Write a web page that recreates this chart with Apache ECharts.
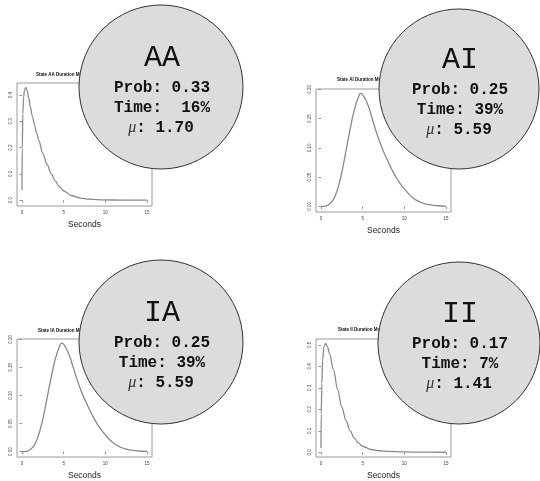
<!DOCTYPE html>
<html>
<head>
<meta charset="utf-8">
<script src="https://cdn.jsdelivr.net/npm/echarts@6/dist/echarts.min.js"></script>
<style>
html, body { margin: 0; padding: 0; background: #fff; }
#chart { width: 540px; height: 481px; }
</style>
</head>
<body>
<div id="chart"></div>
<script>
// states and summary numbers shown in the bubbles
var states = ['AA', 'AI', 'IA', 'II'];
var probs = ['0.33', '0.25', '0.25', '0.17'];
var timeLabels = ['16%', '39%', '39%', '7%'];
var means = ['1.70', '5.59', '5.59', '1.41'];

// duration densities
var aaSeconds = [0, 0.03, 0.1, 0.2, 0.3, 0.45, 0.6, 0.8, 1.0, 1.25, 1.5, 1.75, 2, 2.5, 3, 3.5, 4, 4.5, 5, 6, 7, 8, 10, 12, 15];
var aaDensity = [0.04, 0.2, 0.33, 0.395, 0.418, 0.428, 0.42, 0.39, 0.355, 0.318, 0.287, 0.256, 0.229, 0.178, 0.137, 0.101, 0.073, 0.051, 0.035, 0.017, 0.008, 0.004, 0.0012, 0.0004, 0.0001];

var aiSeconds = [0, 0.5, 1, 1.5, 2, 2.5, 3, 3.5, 4, 4.5, 4.75, 5, 5.5, 6, 6.5, 7, 7.5, 8, 8.5, 9, 9.5, 10, 11, 12, 13, 14, 15];
var aiDensity = [0, 0.0005, 0.004, 0.012, 0.03, 0.058, 0.095, 0.132, 0.165, 0.187, 0.193, 0.191, 0.178, 0.157, 0.133, 0.112, 0.094, 0.078, 0.063, 0.05, 0.039, 0.03, 0.015, 0.007, 0.003, 0.0012, 0.0005];

var iaSeconds = [0, 0.5, 1, 1.5, 2, 2.5, 3, 3.5, 4, 4.5, 4.75, 5, 5.5, 6, 6.5, 7, 7.5, 8, 8.5, 9, 9.5, 10, 11, 12, 13, 14, 15];
var iaDensity = [0, 0.0005, 0.004, 0.012, 0.03, 0.058, 0.095, 0.132, 0.165, 0.187, 0.193, 0.191, 0.178, 0.157, 0.133, 0.112, 0.094, 0.078, 0.063, 0.05, 0.039, 0.03, 0.015, 0.007, 0.003, 0.0012, 0.0005];

var iiSeconds = [0, 0.03, 0.1, 0.2, 0.35, 0.55, 0.8, 1, 1.5, 2, 2.5, 3, 3.5, 4, 4.5, 5, 6, 7, 8, 10, 12, 15];
var iiDensity = [0.02, 0.18, 0.32, 0.43, 0.49, 0.507, 0.49, 0.46, 0.385, 0.29, 0.21, 0.148, 0.1, 0.066, 0.043, 0.028, 0.013, 0.007, 0.004, 0.0015, 0.0005, 0.0001];

// tick labels
var xTicks = [0, 5, 10, 15];
var yTicksAA = [0, 0.1, 0.2, 0.3, 0.4];
var yTicksAI = [0, 0.05, 0.1, 0.15, 0.2];
var yTicksII = [0, 0.1, 0.2, 0.3, 0.4, 0.5];

var seconds = [aaSeconds, aiSeconds, iaSeconds, iiSeconds];
var density = [aaDensity, aiDensity, iaDensity, iiDensity];
var yTicks = [yTicksAA, yTicksAI, yTicksAI, yTicksII];
var yDigits = [1, 2, 2, 1];

// layout
var grids = [
  { left: 17, top: 83, width: 135, height: 123 },
  { left: 316, top: 89, width: 135, height: 123 },
  { left: 17, top: 339, width: 135, height: 123 },
  { left: 316, top: 339, width: 135, height: 123 }
];
var yRanges = [[-0.022, 0.446], [-0.0095, 0.2005], [-0.0095, 0.2005], [-0.022, 0.527]];
var titlePos = [[36, 75], [337, 80], [38, 331], [338, 330]];
var bubbles = [[161, 87, 82], [459, 89, 80], [161, 342, 82], [459, 343, 81]];

var chart = echarts.init(document.getElementById('chart'));

var gridOpts = [], xAxes = [], yAxes = [], series = [], graphics = [];

for (var i = 0; i < 4; i++) {
  gridOpts.push(Object.assign({
    show: true, borderColor: '#9a9a9a', borderWidth: 1, backgroundColor: 'transparent'
  }, grids[i]));

  xAxes.push({
    type: 'value', gridIndex: i, min: -0.6, max: 15.6,
    name: 'Seconds', nameLocation: 'middle', nameGap: 14,
    nameTextStyle: { fontFamily: 'Liberation Sans', fontSize: 8.5, color: '#222' },
    axisLine: { show: false },
    axisTick: { show: true, length: 2.5, customValues: xTicks, lineStyle: { color: '#777', width: 0.8 } },
    axisLabel: { customValues: xTicks, fontSize: 4.5, margin: 4, color: '#444', fontFamily: 'Liberation Sans' },
    splitLine: { show: false }
  });

  (function (d) {
    yAxes.push({
      type: 'value', gridIndex: i, min: yRanges[i][0], max: yRanges[i][1],
      axisLine: { show: false },
      axisTick: { show: true, length: 2.5, customValues: yTicks[i], lineStyle: { color: '#777', width: 0.8 } },
      axisLabel: {
        customValues: yTicks[i], fontSize: 4.5, margin: 4, rotate: 90, color: '#444',
        fontFamily: 'Liberation Sans',
        formatter: function (v) { return v.toFixed(d); }
      },
      splitLine: { show: false }
    });
  })(yDigits[i]);

  var steep = (i === 0 || i === 3);
  series.push({
    type: 'line', xAxisIndex: i, yAxisIndex: i,
    data: seconds[i].map(function (s, k) { return [s, density[i][k]]; }),
    showSymbol: false,
    smooth: steep ? 0.35 : 0.5,
    smoothMonotone: steep ? 'x' : null,
    lineStyle: { color: '#8a8a8a', width: 1.3 },
    z: 2
  });

  graphics.push({
    type: 'text', x: titlePos[i][0], y: titlePos[i][1], z: 5,
    style: {
      text: 'State ' + states[i] + ' Duration Model',
      font: 'bold 4.5px "Liberation Sans"', fill: '#111',
      textAlign: 'left', textVerticalAlign: 'middle'
    }
  });

  var b = bubbles[i];
  graphics.push({
    type: 'circle', z: 100,
    shape: { cx: b[0], cy: b[1], r: b[2] },
    style: { fill: '#dcdcdc', stroke: '#333', lineWidth: 1 }
  });
  graphics.push({
    type: 'text', x: b[0] + 1, y: b[1] - 29, z: 101,
    style: { text: states[i], font: '30px "Liberation Mono"', fill: '#111', textAlign: 'center', textVerticalAlign: 'middle' }
  });
  graphics.push({
    type: 'text', x: b[0] + 1, y: b[1] + 1, z: 101,
    style: { text: 'Prob: ' + probs[i], font: 'bold 16px "Liberation Mono"', fill: '#111', textAlign: 'center', textVerticalAlign: 'middle' }
  });
  graphics.push({
    type: 'text', x: b[0] + 1, y: b[1] + 21, z: 101,
    style: {
      text: (i === 0 ? 'Time:  ' : 'Time: ') + timeLabels[i],
      font: 'bold 16px "Liberation Mono"', fill: '#111', textAlign: 'center', textVerticalAlign: 'middle'
    }
  });
  graphics.push({
    type: 'text', x: b[0], y: b[1] + 41, z: 101,
    style: {
      text: '{m|\u03bc}{v|: ' + means[i] + '}',
      rich: {
        m: { font: 'italic 16px "Liberation Serif"', fill: '#333' },
        v: { font: 'bold 16px "Liberation Mono"', fill: '#111' }
      },
      textAlign: 'center', textVerticalAlign: 'middle'
    }
  });
}

chart.setOption({
  animation: false,
  backgroundColor: '#fff',
  grid: gridOpts,
  xAxis: xAxes,
  yAxis: yAxes,
  series: series,
  graphic: { elements: graphics }
});
</script>
</body>
</html>
